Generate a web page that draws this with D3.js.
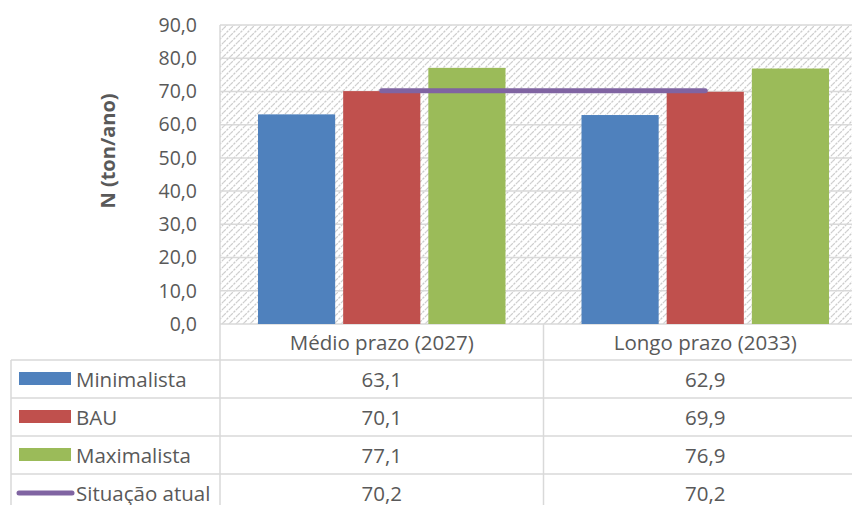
<!DOCTYPE html>
<html>
<head>
<meta charset="utf-8">
<script src="https://cdn.jsdelivr.net/npm/d3@7"></script>
<style>
  body { margin: 0; background: #fff; }
  text { font-family: "Open Sans", sans-serif; fill: #595959; }
</style>
</head>
<body>
<div class="chart"></div>
<script>
var categories = ["Médio prazo (2027)", "Longo prazo (2033)"];
var seriesNames = ["Minimalista", "BAU", "Maximalista"];
var minimalista = [63.1, 62.9];
var bau = [70.1, 69.9];
var maximalista = [77.1, 76.9];
var situacaoAtual = [70.2, 70.2];
var yTicks = [0, 10, 20, 30, 40, 50, 60, 70, 80, 90];

var colours = ["#4f81bd", "#c0504d", "#9bbb59"];
var lineColour = "#8064a2";
var gridColour = "#d9d9d9";

var barSeries = [minimalista, bau, maximalista];

var W = 852, H = 505;
var plot = { left: 220, right: 867, top: 25, bottom: 324 };
var tableLeft = 11;
var rowH = 38;
var fontSize = "20.5px";

var svg = d3.select(".chart")
    .append("svg")
    .attr("width", W)
    .attr("height", H);

// hatched background
var defs = svg.append("defs");
var pat = defs.append("pattern")
    .attr("id", "hatch")
    .attr("patternUnits", "userSpaceOnUse")
    .attr("width", 7)
    .attr("height", 7);
pat.append("rect").attr("width", 7).attr("height", 7).attr("fill", "#fff");
pat.append("path")
    .attr("d", "M-1,1 l2,-2 M0,7 l7,-7 M6,8 l2,-2")
    .attr("stroke", "#cccccc")
    .attr("stroke-width", 1.2)
    .attr("stroke-dasharray", "2.5,1");

var yScale = d3.scaleLinear()
    .domain([0, 90])
    .range([plot.bottom, plot.top]);

var xScale = d3.scaleBand()
    .domain(categories)
    .range([plot.left, plot.right]);

var inner = d3.scaleBand()
    .domain(seriesNames)
    .range([38, xScale.bandwidth() - 38])
    .paddingInner(0.094);

svg.append("rect")
    .attr("x", plot.left)
    .attr("y", plot.top)
    .attr("width", plot.right - plot.left)
    .attr("height", plot.bottom - plot.top)
    .attr("fill", "url(#hatch)");

// gridlines
svg.append("g")
    .selectAll("line")
    .data(yTicks)
    .enter()
    .append("line")
    .attr("x1", plot.left)
    .attr("x2", plot.right)
    .attr("y1", function (d) { return yScale(d); })
    .attr("y2", function (d) { return yScale(d); })
    .attr("stroke", gridColour)
    .attr("stroke-width", 1.5);

svg.append("line")
    .attr("x1", plot.left).attr("x2", plot.left)
    .attr("y1", plot.top).attr("y2", H)
    .attr("stroke", gridColour).attr("stroke-width", 1.5);

// y axis labels
var yAxis = d3.axisLeft(yScale)
    .tickValues(yTicks)
    .tickSize(0)
    .tickPadding(23)
    .tickFormat(function (d) { return d3.format(".1f")(d).replace(".", ","); });

var yG = svg.append("g")
    .attr("transform", "translate(" + plot.left + ",0)")
    .call(yAxis);
yG.select(".domain").remove();
yG.selectAll("text")
    .style("font-size", "19.5px")
    .attr("font-family", null)
    .attr("fill", "#595959");

svg.append("text")
    .attr("transform", "translate(115,151) rotate(-90)")
    .attr("text-anchor", "middle")
    .style("font-size", "20px")
    .style("font-weight", "bold")
    .text("N (ton/ano)");

// bars
barSeries.forEach(function (values, s) {
    svg.append("g")
        .selectAll("rect")
        .data(values)
        .enter()
        .append("rect")
        .attr("x", function (d, i) { return xScale(categories[i]) + inner(seriesNames[s]); })
        .attr("y", function (d) { return yScale(d); })
        .attr("width", inner.bandwidth())
        .attr("height", function (d) { return yScale(0) - yScale(d); })
        .attr("fill", colours[s]);
});

// line series
var line = d3.line()
    .x(function (d, i) { return xScale(categories[i]) + xScale.bandwidth() / 2; })
    .y(function (d) { return yScale(d); });

svg.append("path")
    .datum(situacaoAtual)
    .attr("d", line)
    .attr("fill", "none")
    .attr("stroke", lineColour)
    .attr("stroke-width", 5)
    .attr("stroke-linecap", "round");

// data table
var rows = [
    { name: "Minimalista", values: minimalista, colour: colours[0], kind: "bar" },
    { name: "BAU", values: bau, colour: colours[1], kind: "bar" },
    { name: "Maximalista", values: maximalista, colour: colours[2], kind: "bar" },
    { name: "Situação atual", values: situacaoAtual, colour: lineColour, kind: "line" }
];

var table = svg.append("g");

categories.forEach(function (c, i) {
    if (i > 0) {
        table.append("line")
            .attr("x1", xScale(c)).attr("x2", xScale(c))
            .attr("y1", plot.bottom).attr("y2", H)
            .attr("stroke", gridColour).attr("stroke-width", 1.5);
    }
    table.append("text")
        .attr("x", xScale(c) + xScale.bandwidth() / 2)
        .attr("y", plot.bottom + 26)
        .attr("text-anchor", "middle")
        .style("font-size", fontSize)
        .text(c);
});

var tableTop = plot.bottom + 36;

rows.forEach(function (r, j) {
    var y0 = tableTop + j * rowH;
    table.append("line")
        .attr("x1", tableLeft).attr("x2", W)
        .attr("y1", y0).attr("y2", y0)
        .attr("stroke", gridColour).attr("stroke-width", 1.5);
    if (r.kind === "bar") {
        table.append("rect")
            .attr("x", 19).attr("y", y0 + 12)
            .attr("width", 52).attr("height", 13)
            .attr("fill", r.colour);
    } else {
        table.append("line")
            .attr("x1", 19).attr("x2", 72)
            .attr("y1", y0 + 19).attr("y2", y0 + 19)
            .attr("stroke", r.colour).attr("stroke-width", 5)
            .attr("stroke-linecap", "round");
    }
    table.append("text")
        .attr("x", 76)
        .attr("y", y0 + 27)
        .style("font-size", fontSize)
        .text(r.name);
    r.values.forEach(function (v, i) {
        table.append("text")
            .attr("x", xScale(categories[i]) + xScale.bandwidth() / 2)
            .attr("y", y0 + 27)
            .attr("text-anchor", "middle")
            .style("font-size", fontSize)
            .text(d3.format(".1f")(v).replace(".", ","));
    });
});

table.append("line")
    .attr("x1", tableLeft).attr("x2", tableLeft)
    .attr("y1", tableTop).attr("y2", H)
    .attr("stroke", gridColour).attr("stroke-width", 1.5);
</script>
</body>
</html>
